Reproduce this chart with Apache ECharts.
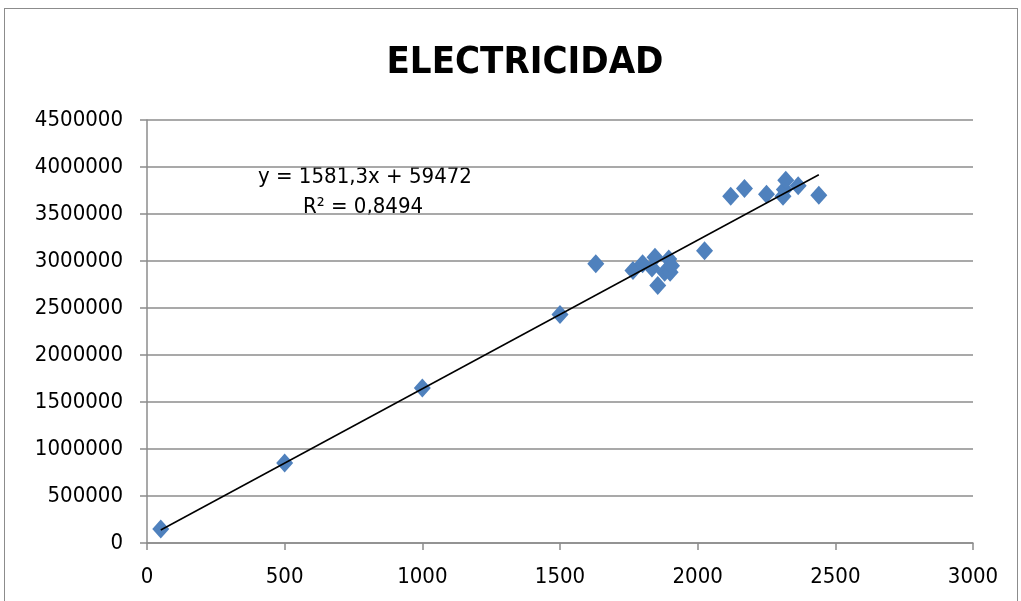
<!DOCTYPE html>
<html>
<head>
<meta charset="utf-8">
<script src="https://cdn.jsdelivr.net/npm/echarts@6/dist/echarts.min.js"></script>
<style>
  html, body { margin: 0; padding: 0; background: #fff; }
  #frame { position: absolute; left: 4px; top: 8px; width: 1014px; height: 610px; border: 1px solid #8c8c8c; box-sizing: border-box; }
  #chart { position: absolute; left: 0; top: 0; width: 1021px; height: 601px; }
</style>
</head>
<body>
<div id="frame"></div>
<div id="chart"></div>
<script>
// Electricity consumption measurements (x) vs. value (y)
const xValues = [50, 500, 1000, 1500, 1630, 1765, 1800, 1834, 1845, 1855, 1880, 1895, 1900, 1905, 2025, 2120, 2170, 2250, 2310, 2315, 2320, 2365, 2440];
const yValues = [150000, 850000, 1650000, 2430000, 2970000, 2900000, 2970000, 2925000, 3040000, 2740000, 2880000, 3020000, 2880000, 2950000, 3110000, 3690000, 3770000, 3710000, 3690000, 3760000, 3860000, 3800000, 3700000];

// Linear trendline coefficients as stated in the label
const slope = 1581.3;
const intercept = 59472;
const r2 = 0.8494;

const xTicks = [0, 500, 1000, 1500, 2000, 2500, 3000];
const yTicks = [0, 500000, 1000000, 1500000, 2000000, 2500000, 3000000, 3500000, 4000000, 4500000];

const points = xValues.map((x, i) => [x, yValues[i]]);
const xMin = Math.min(...xValues), xMax = Math.max(...xValues);
const trend = [[xMin, slope * xMin + intercept], [xMax, slope * xMax + intercept]];

const fmt = v => v.toString().replace('.', ',');
const font = '"Liberation Sans Narrow", "DejaVu Sans Condensed", sans-serif';

const chart = echarts.init(document.getElementById('chart'), null, { renderer: 'canvas' });
chart.setOption({
  animation: false,
  backgroundColor: 'transparent',
  title: {
    text: 'ELECTRICIDAD',
    left: 520, top: 39, textAlign: 'center',
    textStyle: { fontFamily: font, fontWeight: 'bold', fontSize: 38, color: '#000' }
  },
  grid: { left: 147, right: 48, top: 120, bottom: 58 },
  xAxis: {
    type: 'value', min: xTicks[0], max: xTicks[xTicks.length - 1], interval: 500,
    axisLine: { show: true, lineStyle: { color: '#8c8c8c', width: 1.5 } },
    axisTick: { show: true, length: 7, lineStyle: { color: '#8c8c8c', width: 1.5 } },
    axisLabel: { margin: 23, color: '#000', fontFamily: font, fontSize: 22, formatter: v => String(v) },
    splitLine: { show: false }
  },
  yAxis: {
    type: 'value', min: yTicks[0], max: yTicks[yTicks.length - 1], interval: 500000,
    axisLine: { show: true, lineStyle: { color: '#8c8c8c', width: 1.5 } },
    axisTick: { show: true, length: 7, lineStyle: { color: '#8c8c8c', width: 1.5 } },
    axisLabel: {
      margin: 24, color: '#000', fontFamily: font, fontSize: 22, padding: [6, 0, 0, 0],
      formatter: v => String(v)
    },
    splitLine: { show: true, lineStyle: { color: '#8c8c8c', width: 1.5 } }
  },
  series: [
    {
      type: 'scatter',
      data: points,
      symbol: 'diamond',
      symbolSize: [17, 19],
      itemStyle: { color: '#4f81bd', opacity: 1 },
      z: 2
    },
    {
      type: 'line',
      data: trend,
      symbol: 'none',
      lineStyle: { color: '#000', width: 1.5 },
      z: 3
    }
  ],
  graphic: [
    {
      type: 'text', left: 258, top: 166,
      style: { text: 'y = ' + fmt(slope) + 'x + ' + intercept, fontFamily: font, fontSize: 22, fill: '#000' }
    },
    {
      type: 'text', left: 303, top: 196,
      style: { text: 'R² = ' + fmt(r2), fontFamily: font, fontSize: 22, fill: '#000' }
    }
  ]
});
</script>
</body>
</html>
